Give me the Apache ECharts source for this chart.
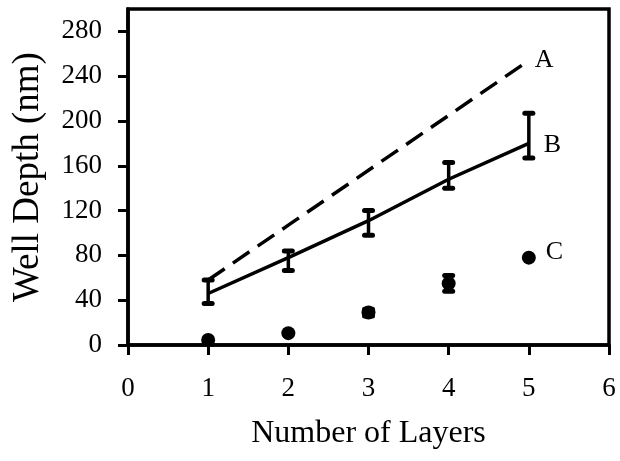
<!DOCTYPE html>
<html>
<head>
<meta charset="utf-8">
<script src="https://cdn.jsdelivr.net/npm/echarts@6/dist/echarts.min.js"></script>
<style>html,body{margin:0;padding:0;background:#fff;}#c{width:620px;height:461px;}</style>
</head>
<body>
<div id="c"></div>
<script>
const layers = [1, 2, 3, 4, 5];
const xTicks = [0, 1, 2, 3, 4, 5, 6];
const yTicks = [0, 40, 80, 120, 160, 200, 240, 280];
const seriesA = [58, 107, 156, 205, 254];
const seriesB = [46, 78, 111, 148, 180];
const seriesBLow = [37, 66.5, 98, 140, 167];
const seriesBHigh = [58, 84, 120, 163, 207];
const seriesC = [4.5, 10.6, 29, 55, 78];
const seriesCLow = [4.5, 10.6, 26, 48, 78];
const seriesCHigh = [4.5, 10.6, 32, 62, 78];
const names = ['A', 'B', 'C'];

const FONT = 'Liberation Serif';
const chart = echarts.init(document.getElementById('c'));

function errData(low, high) {
  return layers.map((x, i) => [x, low[i], high[i]]);
}
function errRender(params, api) {
  const x = api.value(0);
  const lo = api.value(1), hi = api.value(2);
  if (lo === hi) return null;
  const p1 = api.coord([x, hi]);
  const p2 = api.coord([x, lo]);
  const hw = 4;
  const st = {stroke: '#000', lineWidth: 3.5};
  const cap = {stroke: '#000', lineWidth: 5, lineCap: 'round'};
  return {
    type: 'group',
    children: [
      {type: 'line', shape: {x1: p1[0], y1: p1[1], x2: p2[0], y2: p2[1]}, style: st},
      {type: 'line', shape: {x1: p1[0] - hw, y1: p1[1], x2: p1[0] + hw, y2: p1[1]}, style: cap},
      {type: 'line', shape: {x1: p2[0] - hw, y1: p2[1], x2: p2[0] + hw, y2: p2[1]}, style: cap}
    ]
  };
}
const labelStyle = {color: '#000', fontFamily: FONT, fontSize: 26};

const option = {
  animation: false,
  backgroundColor: '#fff',
  grid: {left: 128, right: 11, top: 9, bottom: 116, show: true, borderColor: '#000', borderWidth: 3.5},
  xAxis: {
    type: 'value', min: 0, max: 6, interval: 1,
    name: 'Number of Layers', nameLocation: 'middle', nameGap: 73,
    nameTextStyle: {color: '#000', fontFamily: FONT, fontSize: 32},
    axisLine: {show: true, onZero: false, lineStyle: {color: '#000', width: 3.5}},
    axisTick: {show: true, length: 10, lineStyle: {color: '#000', width: 3}},
    axisLabel: {color: '#000', fontFamily: FONT, fontSize: 27, margin: 30},
    splitLine: {show: false}
  },
  yAxis: {
    type: 'value', min: 0, max: 300,
    name: 'Well Depth (nm)', nameLocation: 'middle', nameGap: 81,
    nameTextStyle: {color: '#000', fontFamily: FONT, fontSize: 37},
    axisLine: {show: true, lineStyle: {color: '#000', width: 3.5}},
    axisTick: {show: true, length: 10, customValues: yTicks, lineStyle: {color: '#000', width: 3}},
    axisLabel: {color: '#000', fontFamily: FONT, fontSize: 27, margin: 26, customValues: yTicks},
    splitLine: {show: false}
  },
  series: [
    {
      name: names[0], type: 'line',
      data: layers.map((x, i) => [x, seriesA[i]]),
      showSymbol: false, symbol: 'none',
      lineStyle: {color: '#000', width: 3.5, type: [20, 10]},
      endLabel: {show: true, formatter: names[0], distance: 6, ...labelStyle},
      z: 2
    },
    {
      name: names[1], type: 'line',
      data: layers.map((x, i) => [x, seriesB[i]]),
      showSymbol: false, symbol: 'none',
      lineStyle: {color: '#000', width: 3.5},
      endLabel: {show: true, formatter: names[1], distance: 15, offset: [0, 2], ...labelStyle},
      z: 2
    },
    {
      name: 'Berr', type: 'custom', renderItem: errRender,
      data: errData(seriesBLow, seriesBHigh), z: 3
    },
    {
      name: 'Cerr', type: 'custom', renderItem: errRender,
      data: errData(seriesCLow, seriesCHigh), z: 3
    },
    {
      name: names[2], type: 'scatter',
      symbol: 'circle', symbolSize: 14,
      itemStyle: {color: '#000', opacity: 1},
      data: layers.map((x, i) => {
        const d = {value: [x, seriesC[i]]};
        if (i === layers.length - 1) {
          d.label = {show: true, position: 'right', distance: 10, offset: [0, -5], formatter: names[2], ...labelStyle};
        }
        return d;
      }),
      z: 4
    }
  ]
};
chart.setOption(option);
</script>
</body>
</html>
